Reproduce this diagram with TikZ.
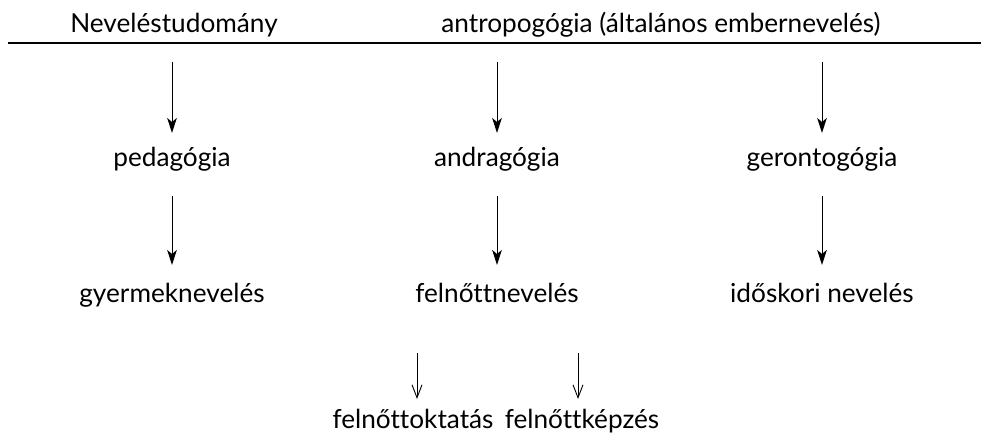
\documentclass[tikz,border=0pt]{standalone}
\usepackage{fontspec}
\setmainfont{Lato}[Ligatures={NoCommon}]
\usetikzlibrary{arrows.meta}
\begin{document}
\begin{tikzpicture}[x=0.5pt,y=-0.5pt,
  lbl/.style={inner sep=0pt, anchor=base, font=\fontsize{13.1}{16}\selectfont},
  mainarrow/.style={line width=0.5pt, -{Stealth[length=7.5pt,width=4.8pt,inset=2pt]}},
  subarrow/.style={line width=0.45pt, -{Straight Barb[length=6.5pt,width=5pt]}}]
  \useasboundingbox (0,0) rectangle (981,435);

  % header row and rule
  \node[lbl] (nev) at (174,32) {Neveléstudomány};
  \node[lbl] (antr) at (661,32) {antropogógia (általános embernevelés)};
  \coordinate (ruleL) at (8,43);
  \coordinate (ruleR) at (981,43);
  \draw[line width=0.65pt] (ruleL) -- (ruleR);

  % branch heads
  \coordinate (topA) at (172,62);
  \coordinate (topB) at (497,62);
  \coordinate (topC) at (822,62);
  \node[lbl] (ped) at (172,166) {pedagógia};
  \node[lbl] (andr) at (497,166) {andragógia};
  \node[lbl] (ger) at (822,166) {gerontogógia};

  % second level
  \node[lbl] (gyer) at (172,302) {gyermeknevelés};
  \node[lbl] (feln) at (497,302) {felnőttnevelés};
  \node[lbl] (idos) at (822,302) {időskori nevelés};

  % bottom level
  \node[lbl] (okt) at (413,428) {felnőttoktatás};
  \node[lbl] (kep) at (582,428) {felnőttképzés};
  \coordinate (subA) at (417,353);
  \coordinate (subB) at (578,353);
  \coordinate (subAe) at (417,399);
  \coordinate (subBe) at (578,399);

  % connectors
  \draw[mainarrow] (topA) -- (topA |- 0,133);
  \draw[mainarrow] (topB) -- (topB |- 0,133);
  \draw[mainarrow] (topC) -- (topC |- 0,133);
  \draw[mainarrow] (ped.south |- 0,196) -- (ped.south |- 0,265);
  \draw[mainarrow] (andr.south |- 0,196) -- (andr.south |- 0,265);
  \draw[mainarrow] (ger.south |- 0,196) -- (ger.south |- 0,265);
  \draw[subarrow] (subA) -- (subAe);
  \draw[subarrow] (subB) -- (subBe);
\end{tikzpicture}
\end{document}
